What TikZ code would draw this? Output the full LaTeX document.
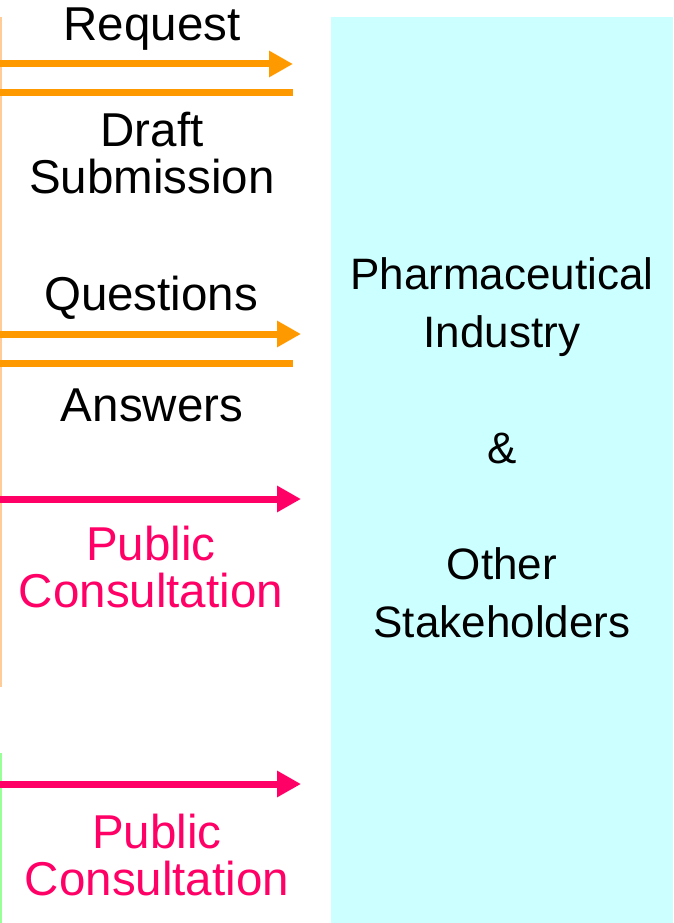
\documentclass[tikz,border=0pt]{standalone}
\usepackage{fontspec}
\setmainfont{Liberation Sans}
\usetikzlibrary{arrows.meta}
\definecolor{msgorange}{HTML}{FF9900}
\definecolor{pubpink}{HTML}{FF0066}
\definecolor{stakecyan}{HTML}{CCFFFF}
\definecolor{paleorange}{HTML}{FFCC99}
\definecolor{palegreen}{HTML}{99FF99}
\tikzset{
  msgline/.style={draw=msgorange, line width=7pt},
  msgarrow/.style={msgline, -{Triangle[length=24pt,width=25pt]}},
  pubarrow/.style={draw=pubpink, line width=7pt, -{Triangle[length=24pt,width=25pt]}},
  lbl/.style={align=center, inner sep=0pt, font=\fontsize{47.5}{47}\selectfont}
}

\begin{document}
\begin{tikzpicture}[x=1pt, y=-1pt]
  \useasboundingbox (0,0) rectangle (673,923);
  \fill[stakecyan] (331,17) rectangle (673,923);
  \draw[paleorange, line width=2pt] (1,17) -- (1,687);
  \draw[palegreen, line width=2pt] (1,753) -- (1,923);

  \coordinate (reqS) at (0,64);   \coordinate (reqE) at (293,64);
  \coordinate (subS) at (0,93);   \coordinate (subE) at (293,93);
  \coordinate (qS) at (0,334);    \coordinate (qE) at (301,334);
  \coordinate (aS) at (0,363);    \coordinate (aE) at (293,363);
  \coordinate (pubaS) at (0,499); \coordinate (pubaE) at (301,499);
  \coordinate (pubbS) at (0,784); \coordinate (pubbE) at (301,784);

  \draw[msgarrow] (reqS) -- (reqE);
  \draw[msgline] (subS) -- (subE);
  \draw[msgarrow] (qS) -- (qE);
  \draw[msgline] (aS) -- (aE);
  \draw[pubarrow] (pubaS) -- (pubaE);
  \draw[pubarrow] (pubbS) -- (pubbE);

  \node[lbl] (request) at (152,29) {Request};
  \node[lbl] (draft) at (152,153) {Draft\\Submission};
  \node[lbl] (questions) at (151,298) {Questions};
  \node[lbl] (answers) at (152,405) {Answers};
  \node[lbl, text=pubpink] (consultA) at (151,567) {Public\\Consultation};
  \node[lbl, text=pubpink] (consultB) at (157,855) {Public\\Consultation};
  \node[lbl, font=\fontsize{44}{58}\selectfont] (stake) at (502,448)
    {Pharmaceutical\\Industry\\[58pt]\&\\[58pt]Other\\Stakeholders};
\end{tikzpicture}
\end{document}
